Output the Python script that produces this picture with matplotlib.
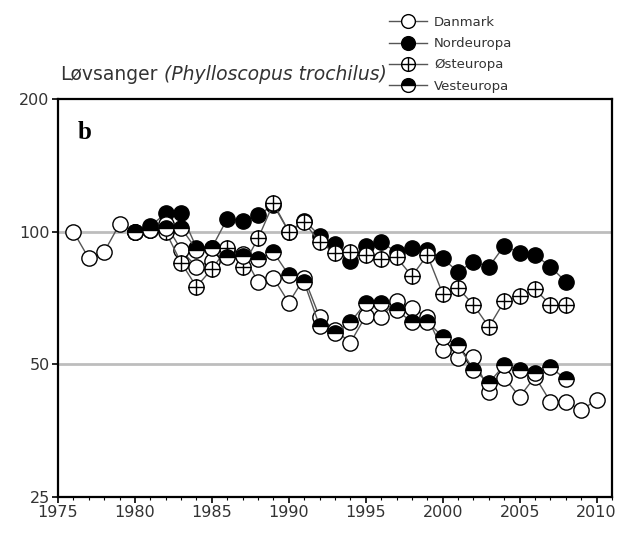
import numpy as np
import matplotlib
matplotlib.use("Agg")
import matplotlib.pyplot as plt
from matplotlib.path import Path
from matplotlib.ticker import FixedLocator, NullLocator, MultipleLocator

plt.rcParams['font.family'] = ['DejaVu Sans']

# data (index, 1980 = 100)
years_dk = list(range(1976, 2011))
danmark = [100, 87, 90, 104, 100, 101, 104, 91, 83, 86, 91, 89, 77, 78.5,
           69, 78.5, 64, 59.8, 56, 64.4, 64, 69.6, 67.2, 63.9, 53.9, 51.7,
           52, 43.3, 46.6, 42.2, 46.9, 41.1, 41.1, 39.4, 41.5]

years_eu = list(range(1980, 2009))
nordeuropa = [100, 103, 110, 110, 92, 92, 107, 106, 109, 115, 100, 106,
              98, 94, 86, 93, 94.5, 90, 92, 91, 87, 81, 85.5, 83.2, 92.9,
              89.5, 88.6, 83.2, 77]
osteuropa = [100, 101, 100, 85, 75, 82.3, 91.8, 83.3, 96.5, 116, 100, 105,
             94.7, 89.5, 90, 88.6, 86.7, 87.4, 79.3, 88.5, 72.3, 74.5, 68.2,
             60.8, 69.5, 71.3, 74, 68.2, 68.2]
vesteuropa = [100, 101, 102, 102, 91, 92, 87.6, 88, 86.7, 89.8, 79.7, 76.7,
              61.1, 58.9, 62.3, 68.9, 68.9, 66.4, 62.3, 62.5, 57.7, 55.3,
              48.6, 45.4, 49.8, 48.6, 47.8, 49.2, 46.3]

# circle with a cross inside
circ = Path.unit_circle()
cross = Path([[-1, 0], [1, 0], [0, -1], [0, 1]],
             [Path.MOVETO, Path.LINETO, Path.MOVETO, Path.LINETO])
circle_plus = Path.make_compound_path(circ, cross)

fig = plt.figure(figsize=(6.21, 5.34), dpi=100)
ax = fig.add_axes([58/621, 37/534, 554/621, 398/534])

ax.set_yscale('log')
ax.set_ylim(25, 200)
ax.set_xlim(1975, 2011)

for v in [50, 100]:
    ax.axhline(v, color='#bdbdbd', lw=2, zorder=0)

line_kw = dict(color='#555555', lw=1.0, markersize=11,
               markeredgecolor='black', markeredgewidth=1.0)

ax.plot(years_dk, danmark, marker='o', markerfacecolor='white',
        label='Danmark', zorder=3, **line_kw)
ax.plot(years_eu, osteuropa, marker=circle_plus, markerfacecolor='white',
        label='Østeuropa', zorder=4, **line_kw)
ax.plot(years_eu, vesteuropa, marker='o', fillstyle='top',
        markerfacecolor='black', markerfacecoloralt='white',
        label='Vesteuropa', zorder=5, **line_kw)
ax.plot(years_eu, nordeuropa, marker='o', markerfacecolor='black',
        label='Nordeuropa', zorder=2, **line_kw)

ax.yaxis.set_major_locator(FixedLocator([25, 50, 100, 200]))
ax.yaxis.set_minor_locator(NullLocator())
ax.set_yticklabels(['25', '50', '100', '200'])
ax.xaxis.set_major_locator(MultipleLocator(5))
ax.xaxis.set_minor_locator(MultipleLocator(1))

ax.tick_params(axis='both', which='major', direction='out', length=4,
               width=1.2, labelsize=11.5, labelcolor='#333333', pad=2)
ax.tick_params(axis='x', which='minor', direction='out', length=2.5,
               width=0.8)
for s in ax.spines.values():
    s.set_linewidth(1.6)

# title in two parts: plain name + italic latin name
t1 = fig.text(60/621, 1 - 75/534, 'Løvsanger', fontsize=13.5,
              color='#333333', va='center', ha='left')
fig.canvas.draw()
bb = t1.get_window_extent()
fig.text((bb.x1 + 6) / 621, 1 - 75/534, '(Phylloscopus trochilus)',
         fontsize=13.5, color='#333333', va='center', ha='left',
         style='italic')

ax.text(0.035, 0.915, 'b', transform=ax.transAxes, fontsize=18,
        fontweight='bold', family='Liberation Serif', va='center')

handles, labels = ax.get_legend_handles_labels()
order = ['Danmark', 'Nordeuropa', 'Østeuropa', 'Vesteuropa']
hl = dict(zip(labels, handles))
fig.legend([hl[k] for k in order], order, loc='upper left',
           bbox_to_anchor=(389/621, 1 - 16/534), frameon=False,
           fontsize=9.5, handlelength=2.9, labelspacing=0.62,
           markerscale=0.9, handletextpad=0.5, labelcolor='#333333',
           borderaxespad=0, borderpad=0)

fig.savefig('out.png', dpi=100)
